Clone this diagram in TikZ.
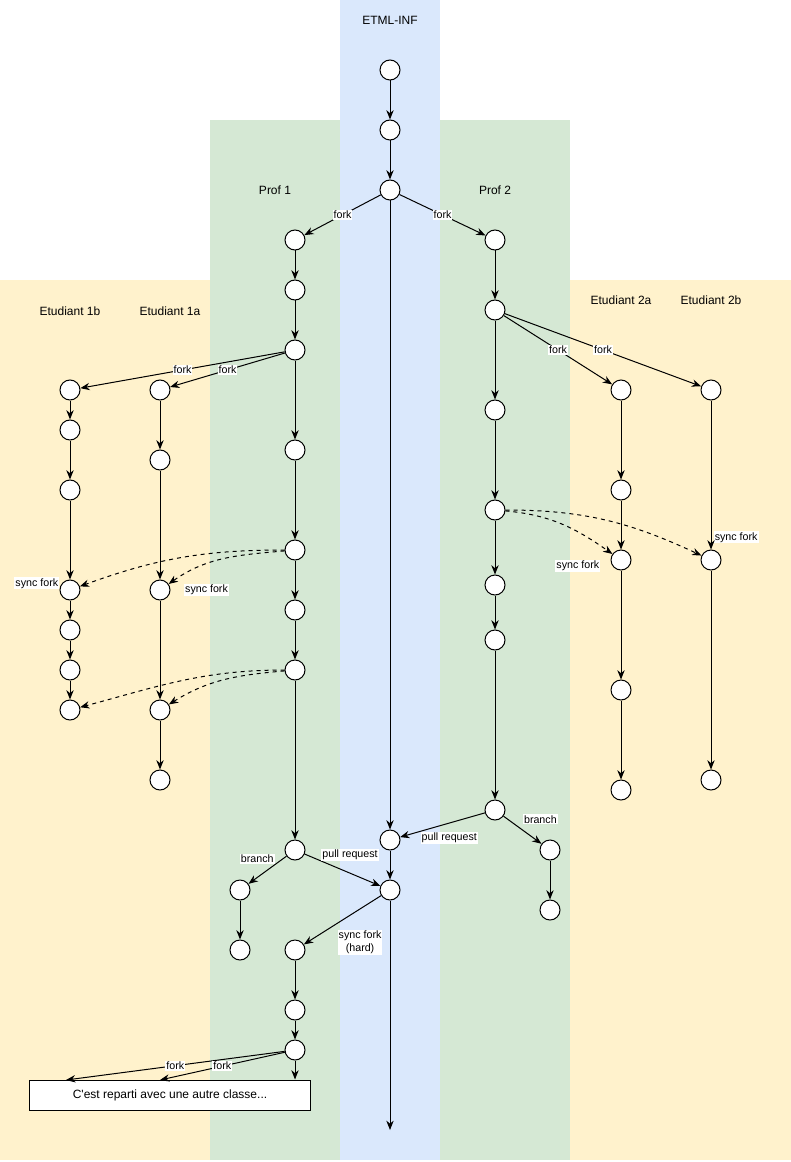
\documentclass[tikz,border=0pt]{standalone}
\usepackage{fontspec}
\setmainfont{Liberation Sans}
\usetikzlibrary{arrows.meta}
\definecolor{etmlblue}{HTML}{DAE8FC}
\definecolor{profgreen}{HTML}{D5E8D4}
\definecolor{eleveyellow}{HTML}{FFF2CC}
\tikzstyle{commit}  = [circle, minimum size=15pt, inner sep=0pt, draw=black, fill=white, line width=0.75pt]
\tikzstyle{process} = [rectangle, minimum width=210.75pt, minimum height=22.5pt, text centered, draw=black, fill=white, line width=0.75pt, font=\fontsize{9}{11}\selectfont]
\tikzstyle{lane}    = [font=\fontsize{9}{11}\selectfont]
\tikzstyle{lbl}     = [fill=white, inner sep=0.8pt, font=\fontsize{8}{9.5}\selectfont]
\tikzstyle{arrow}   = [line width=0.75pt, -{Stealth[length=7pt, width=5.5pt]}]
\tikzstyle{sync}    = [arrow, dashed]

\begin{document}
\begin{tikzpicture}[x=0.75pt, y=-0.75pt, node distance=45pt] % 1px = 0.75pt
            \useasboundingbox (0,0) rectangle (791,1162);
            % lanes
            \fill [eleveyellow] (0,280) rectangle (791,1160);
            \fill [profgreen] (210,120) rectangle (570,1160);
            \fill [etmlblue] (340,0) rectangle (440,1160);

            % lane titles
            \node (etml)  [lane] at (390,20)  {ETML-INF};
            \node (prof1) [lane] at (275,190) {Prof 1};
            \node (prof2) [lane] at (495,190) {Prof 2};
            \node (el1b)  [lane] at (70,311)  {Etudiant 1b};
            \node (el1a)  [lane] at (170,311) {Etudiant 1a};
            \node (el2a)  [lane] at (621,300) {Etudiant 2a};
            \node (el2b)  [lane] at (711,300) {Etudiant 2b};

            % 1. ETML-INF
            \node (e1) [commit] at (390,70) {};
            \node (e2) [commit, below of=e1] {};
            \node (e3) [commit, below of=e2] {};
            \node (e4) [commit] at (390,840) {};
            \node (e5) [commit, node distance=37.5pt, below of=e4] {};
            \coordinate (etmlend) at (390,1130);

            % 2. Prof 1
            \node (p1) [commit] at (295,240) {};
            \node (p2) [commit, node distance=37.5pt, below of=p1] {};
            \node (p3) [commit, below of=p2] {};
            \node (p4) [commit, node distance=75pt, below of=p3] {};
            \node (p5) [commit, node distance=75pt, below of=p4] {};
            \node (p6) [commit, below of=p5] {};
            \node (p7) [commit, below of=p6] {};
            \node (p8) [commit, node distance=135pt, below of=p7] {};
            \node (b1) [commit] at (240,890) {};
            \node (b2) [commit, below of=b1] {};
            \node (q1) [commit] at (295,950) {};
            \node (q2) [commit, below of=q1] {};
            \node (q3) [commit, node distance=30pt, below of=q2] {};

            % 3. Prof 2
            \node (r1) [commit] at (495,240) {};
            \node (r2) [commit, node distance=52.5pt, below of=r1] {};
            \node (r3) [commit, node distance=75pt, below of=r2] {};
            \node (r4) [commit, node distance=75pt, below of=r3] {};
            \node (r5) [commit, node distance=56.25pt, below of=r4] {};
            \node (r6) [commit, node distance=41.25pt, below of=r5] {};
            \node (r7) [commit, node distance=127.5pt, below of=r6] {};
            \node (d1) [commit] at (550,850) {};
            \node (d2) [commit, below of=d1] {};

            % 4. Etudiants 1b et 1a
            \node (c1) [commit] at (70,390) {};
            \node (c2) [commit, node distance=30pt, below of=c1] {};
            \node (c3) [commit, below of=c2] {};
            \node (c4) [commit, node distance=75pt, below of=c3, label={[lbl, yshift=5pt]left:sync fork}] {};
            \node (c5) [commit, node distance=30pt, below of=c4] {};
            \node (c6) [commit, node distance=30pt, below of=c5] {};
            \node (c7) [commit, node distance=30pt, below of=c6] {};
            \node (a1) [commit] at (160,390) {};
            \node (a2) [commit, node distance=52.5pt, below of=a1] {};
            \node (a3) [commit, node distance=97.5pt, below of=a2, label={[lbl, xshift=10pt]right:sync fork}] {};
            \node (a4) [commit, node distance=90pt, below of=a3] {};
            \node (a5) [commit, node distance=52.5pt, below of=a4] {};

            % 5. Etudiants 2a et 2b
            \node (s1) [commit] at (621,390) {};
            \node (s2) [commit, node distance=75pt, below of=s1] {};
            \node (s3) [commit, node distance=52.5pt, below of=s2, label={[lbl, xshift=-7.5pt, yshift=-4.5pt]left:sync fork}] {};
            \node (s4) [commit, node distance=97.5pt, below of=s3] {};
            \node (s5) [commit, node distance=75pt, below of=s4] {};
            \node (t1) [commit] at (711,390) {};
            \node (t2) [commit, node distance=127.5pt, below of=t1, label={[lbl, xshift=-3.75pt, yshift=6.75pt]above right:sync fork}] {};
            \node (t3) [commit, node distance=165pt, below of=t2] {};

            % 6. nouvelle classe
            \node (next) [process] at (170,1095) {C\textquotesingle est reparti avec une autre classe...};
            \coordinate (fork1) at (66,1080);
            \coordinate (fork2) at (160,1080);

            % ETML-INF
            \draw [arrow] (e1) -- (e2);
            \draw [arrow] (e2) -- (e3);
            \draw [arrow] (e3) -- (p1) node[lbl, midway] {fork};
            \draw [arrow] (e3) -- (r1) node[lbl, midway] {fork};
            \draw [arrow] (e3) -- (e4);
            \draw [arrow] (e4) -- (e5);
            \draw [arrow] (e5) -- (etmlend);

            % Prof 1
            \draw [arrow] (p1) -- (p2);
            \draw [arrow] (p2) -- (p3);
            \draw [arrow] (p3) -- (c1) node[lbl, midway] {fork};
            \draw [arrow] (p3) -- (a1) node[lbl, midway] {fork};
            \draw [arrow] (p3) -- (p4);
            \draw [arrow] (p4) -- (p5);
            \draw [arrow] (p5) -- (p6);
            \draw [arrow] (p6) -- (p7);
            \draw [arrow] (p7) -- (p8);
            \draw [sync] (p5) to[out=180, in=20] (c4);
            \draw [sync] (p5) to[out=185, in=35] (a3);
            \draw [sync] (p7) to[out=180, in=15] (c7);
            \draw [sync] (p7) to[out=185, in=32] (a4);
            \draw [arrow] (p8) -- (b1) node[lbl, pos=0.3, above left] {branch};
            \draw [arrow] (b1) -- (b2);
            \draw [arrow] (p8) -- (e5) node[lbl, pos=0.6, above=9pt] {pull request};
            \draw [arrow] (e5) -- (q1) node[lbl, align=center, pos=0.5, below right, xshift=-4pt, yshift=-7pt] {sync fork\\(hard)};
            \draw [arrow] (q1) -- (q2);
            \draw [arrow] (q2) -- (q3);
            \draw [arrow] (q3) -- (fork1) node[lbl, midway] {fork};
            \draw [arrow] (q3) -- (fork2) node[lbl, midway] {fork};
            \draw [arrow] (q3) -- (q3 |- next.north);

            % Prof 2
            \draw [arrow] (r1) -- (r2);
            \draw [arrow] (r2) -- (s1) node[lbl, midway] {fork};
            \draw [arrow] (r2) -- (t1) node[lbl, midway] {fork};
            \draw [arrow] (r2) -- (r3);
            \draw [arrow] (r3) -- (r4);
            \draw [arrow] (r4) -- (r5);
            \draw [arrow] (r5) -- (r6);
            \draw [arrow] (r6) -- (r7);
            \draw [sync] (r4) to[out=-5, in=145] (s3);
            \draw [sync] (r4) to[out=0, in=155] (t2);
            \draw [arrow] (r7) -- (e4) node[lbl, pos=0.42, below=6pt] {pull request};
            \draw [arrow] (r7) -- (d1) node[lbl, pos=0.5, above right, yshift=4pt] {branch};
            \draw [arrow] (d1) -- (d2);

            % Etudiants
            \draw [arrow] (c1) -- (c2);
            \draw [arrow] (c2) -- (c3);
            \draw [arrow] (c3) -- (c4);
            \draw [arrow] (c4) -- (c5);
            \draw [arrow] (c5) -- (c6);
            \draw [arrow] (c6) -- (c7);
            \draw [arrow] (a1) -- (a2);
            \draw [arrow] (a2) -- (a3);
            \draw [arrow] (a3) -- (a4);
            \draw [arrow] (a4) -- (a5);
            \draw [arrow] (s1) -- (s2);
            \draw [arrow] (s2) -- (s3);
            \draw [arrow] (s3) -- (s4);
            \draw [arrow] (s4) -- (s5);
            \draw [arrow] (t1) -- (t2);
            \draw [arrow] (t2) -- (t3);

        \end{tikzpicture}
\end{document}
